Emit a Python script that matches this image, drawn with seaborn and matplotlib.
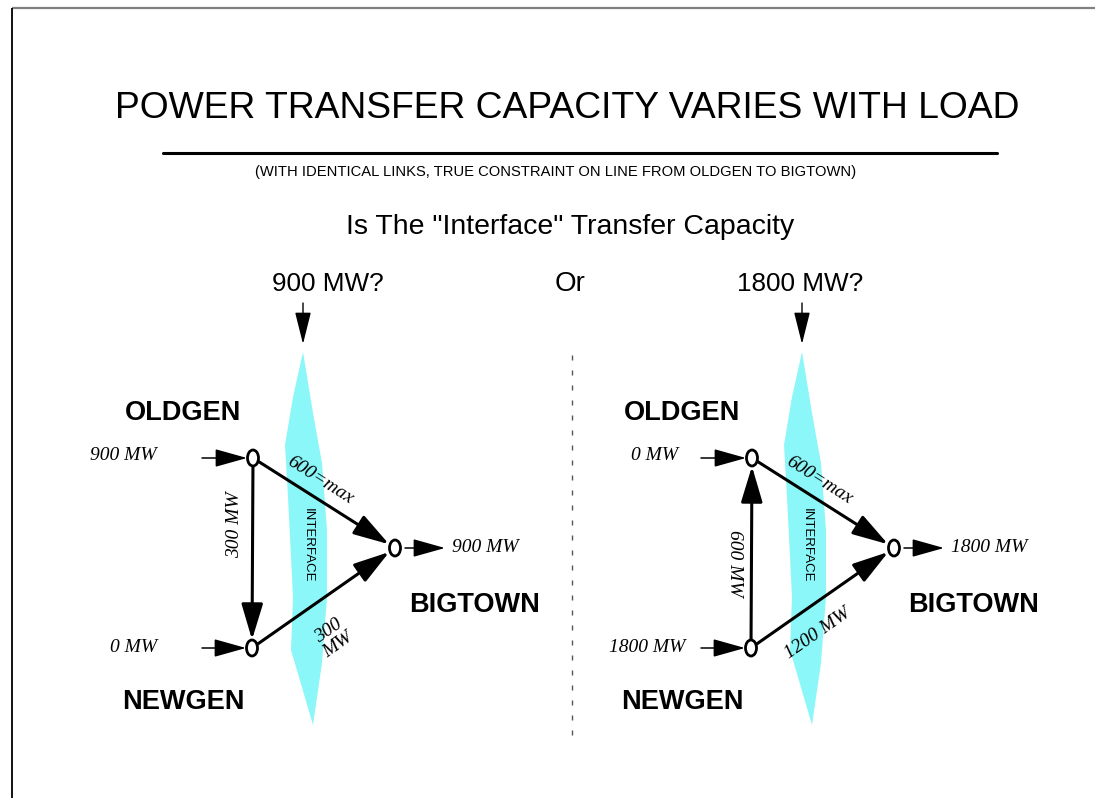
import numpy as np
import pandas as pd
import matplotlib
matplotlib.use("Agg")
import matplotlib.pyplot as plt
from matplotlib.patches import Ellipse, Polygon, FancyArrowPatch
import seaborn as sns

# ---- chart content ----
title = "POWER TRANSFER CAPACITY VARIES WITH LOAD"
subtitle = "(WITH IDENTICAL LINKS, TRUE CONSTRAINT ON LINE FROM OLDGEN TO BIGTOWN)"
question = 'Is The "Interface" Transfer Capacity'
capacity_options = ["900 MW?", "1800 MW?"]
separator_word = "Or"

node_names = ["OLDGEN", "NEWGEN", "BIGTOWN"]
# injections per case: OLDGEN, NEWGEN, BIGTOWN load
oldgen_inject = ["900 MW", "0 MW"]
newgen_inject = ["0 MW", "1800 MW"]
bigtown_load = ["900 MW", "1800 MW"]
# line flows per case
flow_old_big = ["600=max", "600=max"]
flow_old_new = ["300 MW", "600 MW"]
flow_new_big = ["300\nMW", "1200 MW"]
# direction of OLDGEN-NEWGEN line: +1 means OLDGEN -> NEWGEN
old_new_dir = [1, -1]

# ---- layout (pixel units) ----
W, H = 1095, 798
panel_shift = [0, 499]
OLD = np.array([253, 458])
NEW = np.array([252, 648])
BIG = np.array([395, 548])
iface_x = 303
iface_top = 352
option_x = [328, 800]
old_label_right = [157, 678]
new_label_right = [157, 685]
old_new_label_y = [525, 563]
new_big_label_xy = [(333, 638), (818, 633)]
# outline of the shaded "interface" band, relative to its top tip
iface_dx = [0, 10, 19, 24, 24, 19, 10, -12, -10, -15, -18, -10]
iface_dy = [0, 61, 111, 178, 245, 311, 373, 298, 245, 145, 93, 45]

IFACE_COLOR = "#8cf7f8"
SANS = ["Liberation Sans", "DejaVu Sans"]
SERIF = ["Liberation Serif", "DejaVu Serif"]

sns.set_theme(style="white")
plt.rcParams["font.family"] = SANS
plt.rcParams["text.color"] = "black"

fig = plt.figure(figsize=(W / 100, H / 100), dpi=100)
ax = fig.add_axes([0, 0, 1, 1])
ax.set_xlim(0, W)
ax.set_ylim(H, 0)
ax.axis("off")

# page border (top and left)
ax.plot([12, W], [8, 8], color="#808080", lw=1.6, solid_capstyle="butt")
ax.plot([12, 12], [8, H], color="black", lw=1.3, solid_capstyle="butt")

# header
ax.text(567, 109, title, ha="center", va="center", fontsize=26.8)
ax.plot([163, 997], [153, 153], color="black", lw=2.2)
ax.text(556, 172, subtitle, ha="center", va="center", fontsize=10.6)
ax.text(570, 227, question, ha="center", va="center", fontsize=20.5)
ax.text(570, 284, separator_word, ha="center", va="center", fontsize=20)

# dashed divider between the two cases
div = pd.DataFrame({"x": [572, 572], "y": [355, 742]})
sns.lineplot(data=div, x="x", y="y", ax=ax, color="#555555", lw=1,
             estimator=None, sort=False, dashes=False)
ax.lines[-1].set_dashes([3.6, 7.2])


def arrow(p0, p1, lw, hl, hw, shrinkA=0, shrinkB=0, z=3):
    a = FancyArrowPatch(tuple(p0), tuple(p1),
                        arrowstyle=f"-|>,head_length={hl},head_width={hw}",
                        mutation_scale=20, lw=lw, color="black",
                        shrinkA=shrinkA, shrinkB=shrinkB, zorder=z)
    ax.add_patch(a)


def italic(x, y, s, rot=0, ha="center"):
    ax.text(x, y, s, ha=ha, va="center", fontsize=14, style="italic",
            family=SERIF, rotation=rot, rotation_mode="anchor",
            linespacing=0.95, zorder=6)


for i, dx in enumerate(panel_shift):
    off = np.array([dx, 0])
    old, new, big = OLD + off, NEW + off, BIG + off
    cx = iface_x + dx

    # capacity question + down arrow
    ax.text(option_x[i], 284, capacity_options[i], ha="center", va="center",
            fontsize=18.8)
    arrow((cx, 303), (cx, 344), lw=1.0, hl=1.0, hw=0.25)

    # interface band
    pts = np.column_stack([cx + np.array(iface_dx), iface_top + np.array(iface_dy)])
    ax.add_patch(Polygon(pts, closed=True, facecolor=IFACE_COLOR,
                         edgecolor="none", zorder=1))
    ax.text(cx + 5, 545, "INTERFACE", rotation=-90, ha="center", va="center",
            fontsize=9.5, zorder=2)

    # lines between nodes
    if old_new_dir[i] > 0:
        arrow(old, new, lw=2.2, hl=1.1, hw=0.33, shrinkA=5, shrinkB=6)
    else:
        arrow(new, old, lw=2.2, hl=1.1, hw=0.33, shrinkA=5, shrinkB=6)
    arrow(old, big, lw=2.2, hl=1.1, hw=0.33, shrinkA=5, shrinkB=5)
    arrow(new, big, lw=2.2, hl=1.1, hw=0.33, shrinkA=5, shrinkB=5)

    # injections and load
    arrow((202 + dx, old[1]), (old[0] - 6, old[1]), lw=1.1, hl=1.0, hw=0.28)
    arrow((202 + dx, new[1]), (new[0] - 6, new[1]), lw=1.1, hl=1.0, hw=0.28)
    arrow((big[0] + 10, big[1]), (big[0] + 50, big[1]), lw=1.1, hl=1.0, hw=0.28)

    # nodes
    for p in (old, new, big):
        ax.add_patch(Ellipse(tuple(p), 11, 16, facecolor="white",
                             edgecolor="black", lw=2.0, zorder=5))

    # bold node names
    for name, (x, y) in zip(node_names, [(183 + dx, 413), (183 + dx, 702), (475 + dx, 605)]):
        ax.text(x, y, name, ha="center", va="center", fontsize=19.5,
                fontweight="bold")

    # values
    italic(old_label_right[i], 455, oldgen_inject[i], ha="right")
    italic(new_label_right[i], 647, newgen_inject[i], ha="right")
    italic(big[0] + 57, 548, bigtown_load[i], ha="left")
    italic(320 + dx, 480, flow_old_big[i], rot=-32.4)
    italic(235 + dx, old_new_label_y[i], flow_old_new[i],
           rot=90 if old_new_dir[i] > 0 else -90)
    italic(*new_big_label_xy[i], flow_new_big[i], rot=35)

fig.savefig("out.png", dpi=100)
